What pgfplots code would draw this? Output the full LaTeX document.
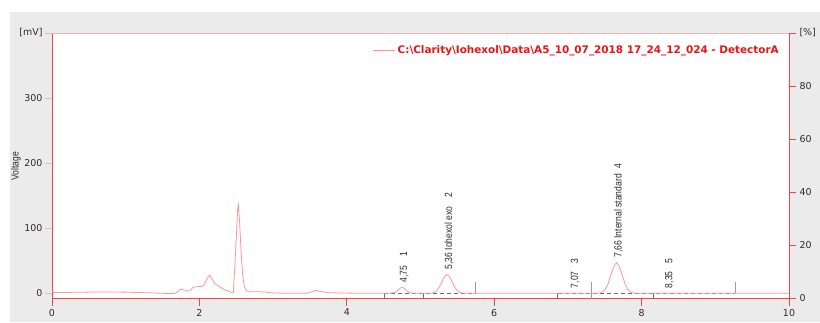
\documentclass[border=0pt]{standalone}
\usepackage{pgfplots}
\pgfplotsset{compat=1.18}
\usepackage{fontspec}
\usepackage{graphicx}
\setmainfont{DejaVu Sans}
\newfontfamily\narrowfont{Liberation Sans}
\definecolor{chromapink}{RGB}{255,150,150}
\definecolor{axisred}{RGB}{238,70,70}
\definecolor{toppink}{RGB}{245,180,180}
\definecolor{bggray}{RGB}{235,235,235}
\definecolor{legred}{RGB}{235,20,20}
\definecolor{labcol}{RGB}{45,45,45}
\definecolor{markgray}{RGB}{110,110,110}
\newcommand{\nar}[1]{\scalebox{0.82}[1]{\narrowfont\fontsize{10.5}{12}\selectfont #1}}
\begin{document}
\begin{tikzpicture}
\useasboundingbox (0bp,0bp) rectangle (820bp,323bp);
\clip (0bp,0bp) rectangle (820bp,323bp);
\fill[bggray] (10bp,1bp) rectangle (820bp,311bp);
\node[rotate=90, text=labcol, inner sep=0pt] at (16bp,157bp) {\nar{Voltage}};
\begin{axis}[
  at={(52bp,24.5bp)}, anchor=south west, scale only axis,
  width=737bp, height=265.5bp,
  xmin=0, xmax=10, ymin=-8, ymax=400,
  axis background/.style={fill=white},
  axis x line*=bottom, axis y line*=left,
  axis line style={-, draw=axisred, line width=0.8pt},
  tick align=outside, major tick length=7bp,
  x tick style={axisred, line width=0.8pt},
  y tick style={toppink, line width=1pt},
  xtick={0,2,4,6,8,10},
  ytick={0,100,200,300,400},
  yticklabels={0,100,200,300,{[mV]}},
  /pgf/number format/assume math mode=true,
  tick label style={font=\fontsize{9.5}{11}\selectfont, text=labcol},
  yticklabel style={xshift=1bp},
  legend style={at={(0.989,0.936)}, anchor=east, draw=none, fill=none,
    font=\bfseries, text=legred, inner sep=0pt},
  legend image code/.code={\draw[chromapink, line width=0.7pt] (-4bp,0bp) -- (18bp,0bp);},
]
\draw[toppink, line width=1pt] (rel axis cs:0,1) -- (rel axis cs:1,1);
% integration baselines
\addplot[forget plot, markgray, dash pattern=on 4bp off 3bp, line width=0.6pt] coordinates {(4.51,0) (5.75,0)};
\addplot[forget plot, markgray, dash pattern=on 4bp off 3bp, line width=0.6pt] coordinates {(6.86,0) (9.27,0)};
% peak markers
\addplot[forget plot, markgray, line width=0.6pt] coordinates {(4.51,0) (4.51,-8)};
\addplot[forget plot, markgray, line width=0.6pt] coordinates {(5.04,0) (5.04,-8)};
\addplot[forget plot, markgray!70, line width=0.6pt] coordinates {(5.75,0) (5.75,17)};
\addplot[forget plot, markgray, line width=0.6pt] coordinates {(6.86,0) (6.86,-8)};
\addplot[forget plot, markgray!70, line width=0.6pt] coordinates {(7.32,-8) (7.32,17)};
\addplot[forget plot, markgray, line width=0.6pt] coordinates {(8.16,0) (8.16,-8)};
\addplot[forget plot, markgray!70, line width=0.6pt] coordinates {(9.27,0) (9.27,17)};
% chromatogram
\addplot[chromapink, line width=0.8pt] coordinates {
(0.00,1.0) (0.30,1.5) (0.60,2.0) (1.00,1.8) (1.30,0.8) (1.50,0.0) (1.65,-0.5)
(1.70,1.5) (1.74,6.5) (1.78,5.5) (1.84,3.5) (1.88,4.0) (1.91,9.0) (1.95,10.0)
(2.02,10.5) (2.06,12.0) (2.10,22.0) (2.14,28.0) (2.17,22.0) (2.21,15.0) (2.28,9.5)
(2.35,5.0) (2.42,2.0) (2.46,1.0) (2.48,40.0) (2.50,85.0) (2.52,130.0) (2.53,136.0)
(2.545,110.0) (2.57,56.0) (2.59,25.0) (2.61,10.0) (2.64,4.0) (2.68,2.5) (2.80,2.5)
(2.90,1.8) (3.00,0.5) (3.20,0.0) (3.45,0.0) (3.52,2.0) (3.57,4.5) (3.63,3.0)
(3.75,1.0) (3.90,0.5) (4.20,0.0) (4.55,0.0)
(4.62,0.4) (4.65,1.2) (4.68,3.4) (4.70,5.5) (4.725,7.9) (4.75,9.0) (4.775,7.9)
(4.80,5.5) (4.82,3.4) (4.85,1.2) (4.88,0.4) (4.95,0.0)
(5.12,0.0) (5.15,0.3) (5.185,1.3) (5.22,3.9) (5.255,9.4) (5.29,17.6) (5.325,25.6)
(5.36,29.0) (5.395,25.6) (5.43,17.6) (5.465,9.4) (5.50,3.9) (5.535,1.3) (5.57,0.3)
(5.62,0.0) (7.35,0.0)
(7.435,0.5) (7.4725,2.1) (7.51,6.4) (7.5475,15.3) (7.585,28.5) (7.6225,41.5)
(7.66,47.0) (7.6975,41.5) (7.735,28.5) (7.7725,15.3) (7.81,6.4) (7.8475,2.1)
(7.885,0.5) (7.95,0.0) (10.0,0.0)
};
\addlegendentry{\resizebox{381bp}{!}{C:\textbackslash Clarity\textbackslash Iohexol\textbackslash Data\textbackslash A5\_10\_07\_2018 17\_24\_12\_024 - DetectorA}}
% peak labels
\node[rotate=90, anchor=west, inner sep=0pt, text=labcol] at ([xshift=2bp,yshift=5bp]axis cs:4.75,9) {\nar{4,75\hspace{11bp}1}};
\node[rotate=90, anchor=west, inner sep=0pt, text=labcol] at ([xshift=2bp,yshift=5bp]axis cs:5.36,29) {\nar{5,36 Iohexol exo\hspace{11bp}2}};
\node[rotate=90, anchor=west, inner sep=0pt, text=labcol] at ([xshift=2bp,yshift=5bp]axis cs:7.07,0) {\nar{7,07\hspace{10bp}3}};
\node[rotate=90, anchor=west, inner sep=0pt, text=labcol] at ([xshift=2bp,yshift=5bp]axis cs:7.66,47) {\nar{7,66 Internal standard\hspace{7bp}4}};
\node[rotate=90, anchor=west, inner sep=0pt, text=labcol] at ([xshift=2bp,yshift=5bp]axis cs:8.35,0) {\nar{8,35\hspace{10bp}5}};
\node[anchor=north, inner sep=0pt, text=labcol, font=\fontsize{9.5}{11}\selectfont] at ([yshift=-19bp]axis cs:10,-8) {[min.]};
\end{axis}
\begin{axis}[
  at={(52bp,24.5bp)}, anchor=south west, scale only axis,
  width=737bp, height=265.5bp,
  xmin=0, xmax=10, ymin=0, ymax=100,
  axis x line=none, axis y line*=right,
  axis line style={-, draw=axisred, line width=0.8pt},
  tick align=outside, major tick length=7bp,
  y tick style={axisred, line width=0.8pt},
  ytick={0,20,40,60,80,100},
  yticklabels={0,20,40,60,80,{[\%]}},
  /pgf/number format/assume math mode=true,
  tick label style={font=\fontsize{9.5}{11}\selectfont, text=labcol},
]
\end{axis}
\end{tikzpicture}
\end{document}
